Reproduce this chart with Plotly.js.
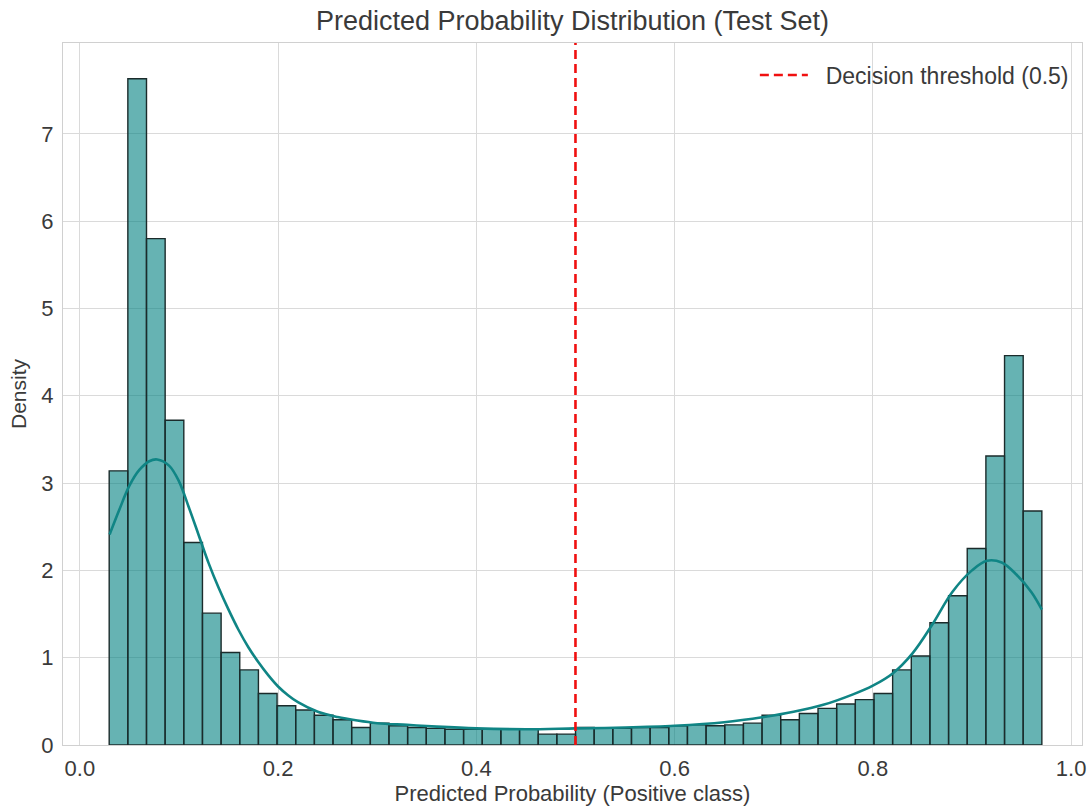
<!DOCTYPE html>
<html>
<head>
<meta charset="utf-8">
<script src="https://cdn.plot.ly/plotly-3.0.1.min.js"></script>
<style>html,body{margin:0;padding:0;background:#fff;}#chart{width:1088px;height:807px;}</style>
</head>
<body>
<div id="chart"></div>
<script>
// Histogram (density) values, 50 bins
var binStart = 0.0296;
var binWidth = 0.018818;
var density = [3.14, 7.63, 5.80, 3.72, 2.32, 1.51, 1.06, 0.86, 0.59, 0.45,
               0.40, 0.34, 0.29, 0.20, 0.25, 0.22, 0.20, 0.19, 0.18, 0.18,
               0.18, 0.18, 0.18, 0.125, 0.125, 0.20, 0.19, 0.19, 0.20, 0.20,
               0.22, 0.23, 0.22, 0.23, 0.25, 0.34, 0.29, 0.36, 0.42, 0.47,
               0.52, 0.59, 0.86, 1.02, 1.40, 1.71, 2.25, 3.31, 4.46, 2.68];
// KDE curve
var kdeX = [0.030, 0.040, 0.050, 0.060, 0.070, 0.078, 0.090, 0.100, 0.110, 0.120,
            0.130, 0.140, 0.150, 0.160, 0.170, 0.180, 0.190, 0.200, 0.210, 0.220,
            0.240, 0.260, 0.280, 0.300, 0.330, 0.360, 0.400, 0.450, 0.500, 0.550,
            0.600, 0.650, 0.690, 0.720, 0.750, 0.780, 0.800, 0.820, 0.840, 0.860,
            0.880, 0.900, 0.915, 0.930, 0.945, 0.960, 0.9705];
var kdeY = [2.41, 2.70, 2.97, 3.15, 3.25, 3.27, 3.20, 3.02, 2.72, 2.40,
            2.08, 1.80, 1.55, 1.32, 1.12, 0.95, 0.80, 0.67, 0.57, 0.49,
            0.38, 0.32, 0.28, 0.25, 0.23, 0.21, 0.19, 0.18, 0.19, 0.20,
            0.22, 0.26, 0.32, 0.38, 0.46, 0.58, 0.68, 0.82, 1.05, 1.38,
            1.75, 2.00, 2.11, 2.09, 1.95, 1.75, 1.55];
var threshold = 0.5;
var thresholdLabel = 'Decision threshold (0.5)';
var xTicks = [0, 0.2, 0.4, 0.6, 0.8, 1.0];
var yTicks = [0, 1, 2, 3, 4, 5, 6, 7];
var yMax = 8.04;

var centers = density.map(function(_, i){ return binStart + binWidth * (i + 0.5); });

var traces = [
  {
    type: 'bar', x: centers, y: density, width: binWidth,
    marker: {color: 'rgba(0,128,128,0.6)', line: {color: '#1b2b2b', width: 1.4}},
    showlegend: false, hoverinfo: 'x+y'
  },
  {
    type: 'scatter', mode: 'lines', x: kdeX, y: kdeY,
    line: {color: '#108585', width: 2.6, shape: 'spline', smoothing: 1},
    showlegend: false
  },
  {
    type: 'scatter', mode: 'lines', x: [threshold, threshold], y: [0, yMax],
    line: {color: '#f01010', width: 2.6, dash: '9px,5px'},
    name: '\u00a0\u00a0' + thresholdLabel, showlegend: true
  }
];

var fam = 'Liberation Sans, Arial, sans-serif';
var txt = '#3a3a3a';
var layout = {
  width: 1088, height: 807,
  margin: {l: 63, r: 6, t: 43, b: 62, pad: 0},
  paper_bgcolor: '#ffffff', plot_bgcolor: '#ffffff',
  font: {family: fam, size: 22, color: txt},
  bargap: 0,
  title: {text: 'Predicted Probability Distribution (Test Set)', x: 0.5, xref: 'paper', xanchor: 'center', y: 0.975, yanchor: 'middle', font: {family: fam, size: 27, color: txt}},
  xaxis: {
    range: [-0.017, 1.011], tickvals: xTicks, ticktext: xTicks.map(function(v){return v.toFixed(1);}),
    tickfont: {family: fam, size: 22, color: txt},
    showgrid: true, gridcolor: '#dadada', gridwidth: 1, zeroline: false,
    showline: true, linecolor: '#d0d0d0', linewidth: 1.2, mirror: true,
    ticks: '', ticklabelstandoff: 3,
    title: {text: 'Predicted Probability (Positive class)', font: {family: fam, size: 22, color: txt}, standoff: 2}
  },
  yaxis: {
    range: [0, yMax], tickvals: yTicks, ticktext: yTicks.map(String),
    tickfont: {family: fam, size: 22, color: txt},
    showgrid: true, gridcolor: '#dadada', gridwidth: 1, zeroline: false,
    showline: true, linecolor: '#d0d0d0', linewidth: 1.2, mirror: true,
    ticks: '', ticklabelstandoff: 4,
    title: {text: 'Density', font: {family: fam, size: 21, color: txt}, standoff: 8}
  },
  legend: {x: 0.992, xanchor: 'right', y: 0.985, yanchor: 'top', itemwidth: 48, bgcolor: 'rgba(255,255,255,0)', borderwidth: 0, font: {family: fam, size: 23, color: txt}}
};

Plotly.newPlot('chart', traces, layout, {displayModeBar: false, staticPlot: true});
</script>
</body>
</html>
